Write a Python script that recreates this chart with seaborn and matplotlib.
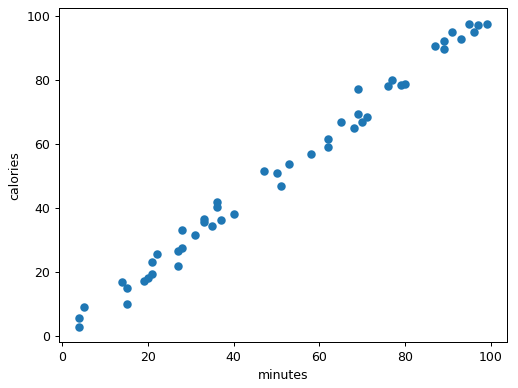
import matplotlib
matplotlib.use("Agg")
import matplotlib.pyplot as plt
import seaborn as sns
import pandas as pd

minutes = [4, 4, 5, 14, 15, 15, 19, 20, 21, 21, 22, 27, 27, 28, 28, 31, 33, 33, 35, 36, 36, 37, 40,
           47, 50, 51, 53, 58, 62, 62, 65, 68, 69, 69, 70, 71, 76, 77, 79, 80,
           87, 89, 89, 91, 93, 95, 96, 97, 99]
calories = [2.9, 5.8, 9.0, 16.8, 15.1, 10.0, 17.3, 18.0, 19.4, 23.3, 25.7, 21.8, 26.7, 27.5, 33.1, 31.7, 35.5, 36.5, 34.5, 40.4, 41.9, 36.2, 38.1,
            51.7, 51.0, 46.9, 53.7, 57.0, 59.0, 61.6, 66.9, 65.1, 77.2, 69.5, 67.0, 68.3, 78.1, 80.0, 78.3, 78.7,
            90.6, 89.6, 92.3, 95.0, 92.9, 97.6, 95.0, 97.3, 97.6]

df = pd.DataFrame({"minutes": minutes, "calories": calories})

dpi = 90
fig = plt.figure(figsize=(518 / dpi, 388 / dpi), dpi=dpi)
ax = fig.add_axes([59 / 518, 1 - 342 / 388, (507 - 59) / 518, (342 - 8.5) / 388])
sns.scatterplot(data=df, x="minutes", y="calories", ax=ax, s=46, linewidth=0, color="#1f77b4")
ax.set_xticks([0, 20, 40, 60, 80, 100])
ax.set_yticks([0, 20, 40, 60, 80, 100])
fig.savefig("out.png", dpi=dpi)
